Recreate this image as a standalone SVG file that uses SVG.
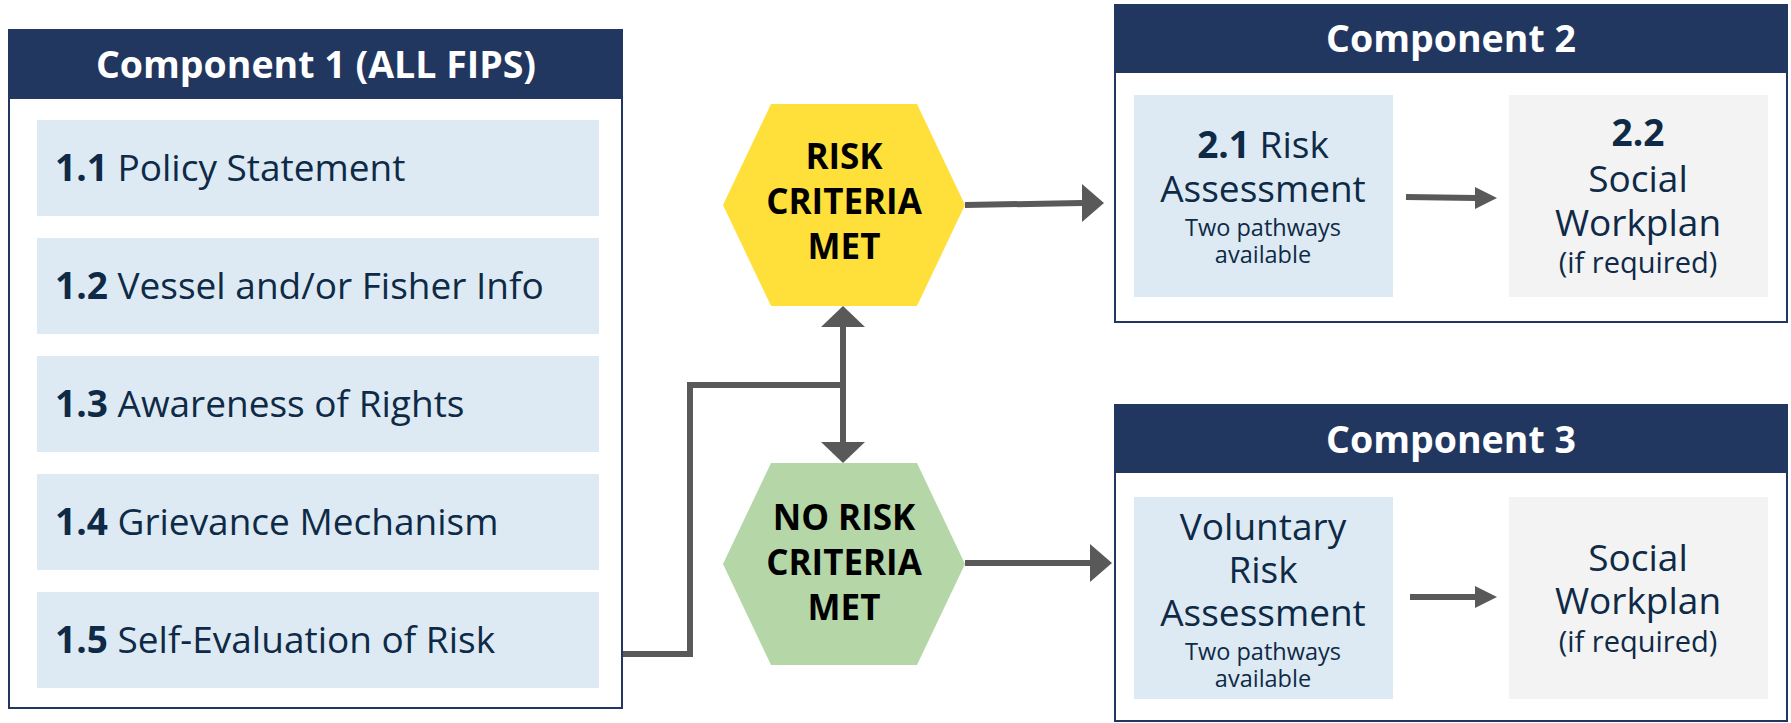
<svg xmlns="http://www.w3.org/2000/svg" width="1791" height="723" viewBox="0 0 1791 723">
<defs>
<style>
.frame{fill:#ffffff;stroke:#22375f;stroke-width:2}
.hdr{fill:#22375f}
.title{font-family:"Open Sans","Noto Sans","Liberation Sans",sans-serif;font-weight:700;font-size:37.5px;fill:#ffffff;text-anchor:middle}
.item{fill:#deeaf3}
.gray{fill:#f3f3f3}
.t{font-family:"Open Sans","Noto Sans","Liberation Sans",sans-serif;font-size:37px;fill:#0e2a47}
.c{text-anchor:middle}
.s{font-size:23.5px}
.r{font-size:29px}
.b{font-weight:700}
.hex{font-family:"Open Sans","Noto Sans","Liberation Sans",sans-serif;font-weight:700;font-size:35px;fill:#000000;text-anchor:middle}
.ln{fill:none;stroke:#595959;stroke-width:6}
.ah{fill:#595959}
</style>
</defs>

<g id="component1">
<rect class="frame" x="9" y="30" width="613" height="678"/>
<rect class="hdr" x="9" y="30" width="613" height="69"/>
<text class="title" x="316" y="78">Component 1 (ALL FIPS)</text>
<rect class="item" x="37" y="120" width="562" height="96"/>
<text class="t" x="55" y="181"><tspan class="b">1.1</tspan> Policy Statement</text>
<rect class="item" x="37" y="238" width="562" height="96"/>
<text class="t" x="55" y="299"><tspan class="b">1.2</tspan> Vessel and/or Fisher Info</text>
<rect class="item" x="37" y="356" width="562" height="96"/>
<text class="t" x="55" y="417"><tspan class="b">1.3</tspan> Awareness of Rights</text>
<rect class="item" x="37" y="474" width="562" height="96"/>
<text class="t" x="55" y="535"><tspan class="b">1.4</tspan> Grievance Mechanism</text>
<rect class="item" x="37" y="592" width="562" height="96"/>
<text class="t" x="55" y="653"><tspan class="b">1.5</tspan> Self-Evaluation of Risk</text>
</g>

<g id="risk">
<polygon points="723,205 771,104 917,104 965,205 917,306 771,306" fill="#ffe03b"/>
<text class="hex" x="844" y="169">RISK</text>
<text class="hex" x="844" y="214">CRITERIA</text>
<text class="hex" x="844" y="259">MET</text>
</g>

<g id="norisk">
<polygon points="723,564 771,463 917,463 965,564 917,665 771,665" fill="#b5d7a8"/>
<text class="hex" x="844" y="530">NO RISK</text>
<text class="hex" x="844" y="575">CRITERIA</text>
<text class="hex" x="844" y="620">MET</text>
</g>

<g id="component2">
<rect class="frame" x="1115" y="5" width="672" height="317"/>
<rect class="hdr" x="1115" y="5" width="672" height="68"/>
<text class="title" x="1451" y="52">Component 2</text>
<rect class="item" x="1134" y="95" width="259" height="202"/>
<text class="t c" x="1263" y="158"><tspan class="b">2.1</tspan> Risk</text>
<text class="t c" x="1263" y="202">Assessment</text>
<text class="t c s" x="1263" y="236">Two pathways</text>
<text class="t c s" x="1263" y="263">available</text>
<rect class="gray" x="1509" y="95" width="259" height="202"/>
<text class="t c b" x="1638" y="146">2.2</text>
<text class="t c" x="1638" y="192">Social</text>
<text class="t c" x="1638" y="236">Workplan</text>
<text class="t c r" x="1638" y="273">(if required)</text>
</g>

<g id="component3">
<rect class="frame" x="1115" y="405" width="672" height="316"/>
<rect class="hdr" x="1115" y="405" width="672" height="68"/>
<text class="title" x="1451" y="453">Component 3</text>
<rect class="item" x="1134" y="497" width="259" height="202"/>
<text class="t c" x="1263" y="540">Voluntary</text>
<text class="t c" x="1263" y="583">Risk</text>
<text class="t c" x="1263" y="626">Assessment</text>
<text class="t c s" x="1263" y="660">Two pathways</text>
<text class="t c s" x="1263" y="687">available</text>
<rect class="gray" x="1509" y="497" width="259" height="202"/>
<text class="t c" x="1638" y="571">Social</text>
<text class="t c" x="1638" y="614">Workplan</text>
<text class="t c r" x="1638" y="652">(if required)</text>
</g>

<g id="connectors">
<polyline class="ln" points="623,654 690,654 690,385 843,385"/>
<line class="ln" x1="843" y1="325" x2="843" y2="444"/>
<polygon class="ah" points="843,306 865,327 821,327"/>
<polygon class="ah" points="843,463 865,442 821,442"/>
<line class="ln" x1="965" y1="205" x2="1082" y2="203"/>
<polygon class="ah" points="1104,203 1082,184 1082,222"/>
<line class="ln" x1="965" y1="563" x2="1090" y2="563"/>
<polygon class="ah" points="1112,563 1090,544 1090,582"/>
<line class="ln" x1="1406" y1="197" x2="1476" y2="198"/>
<polygon class="ah" points="1497,198 1475,187 1475,209"/>
<line class="ln" x1="1410" y1="597" x2="1476" y2="597"/>
<polygon class="ah" points="1497,597 1475,586 1475,608"/>
</g>
</svg>
